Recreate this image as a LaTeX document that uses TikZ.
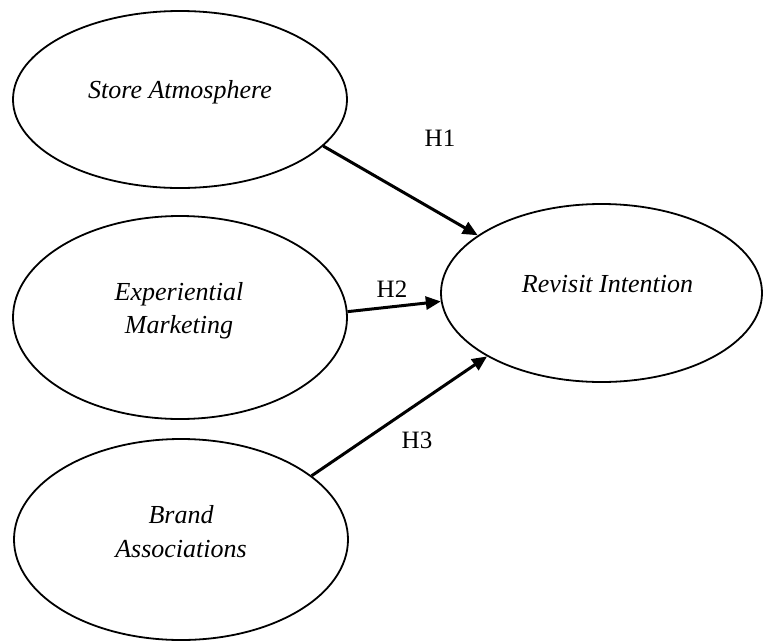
\documentclass[tikz,border=0pt]{standalone}
\usepackage{fontspec}
\setmainfont{Liberation Serif}
\usetikzlibrary{arrows.meta,shapes.geometric}
\begin{document}
\begin{tikzpicture}[x=1pt,y=-1pt,
  construct/.style={draw=black, line width=1.8pt, ellipse, inner sep=0pt},
  ctext/.style={anchor=base, inner sep=0pt, font=\fontsize{26}{30}\selectfont\itshape},
  hlabel/.style={anchor=base, inner sep=0pt, font=\fontsize{25}{30}\selectfont},
  hpath/.style={draw=black, line width=3pt, -{Triangle[length=15pt,width=13pt]}}]
\useasboundingbox (0,0) rectangle (764,641);
% constructs
\node[construct, minimum width=334pt, minimum height=177pt] (sa) at (180,99.5) {};
\node[construct, minimum width=334pt, minimum height=203pt] (em) at (180,317.5) {};
\node[construct, minimum width=334pt, minimum height=201pt] (ba) at (181,539.5) {};
\node[construct, minimum width=321pt, minimum height=178pt] (ri) at (601.5,293) {};
% texts
\node[ctext] (tsa) at (180,98) {Store Atmosphere};
\node[ctext] (tem1) at (179,300) {Experiential};
\node[ctext] (tem2) at (179,333) {Marketing};
\node[ctext] (tba1) at (181,523) {Brand};
\node[ctext] (tba2) at (181,557) {Associations};
\node[ctext] (tri) at (607.5,292) {Revisit Intention};
% paths
\draw[hpath] (sa.-18.6) -- (ri.155.2);
\draw[hpath] (em.2.6) -- (ri.183.2);
\draw[hpath] (ba.26.6) -- (ri.209.8);
% hypothesis labels
\node[hlabel] (h1) at (440,146) {H1};
\node[hlabel] (h2) at (392,297) {H2};
\node[hlabel] (h3) at (417,448) {H3};
\end{tikzpicture}
\end{document}
